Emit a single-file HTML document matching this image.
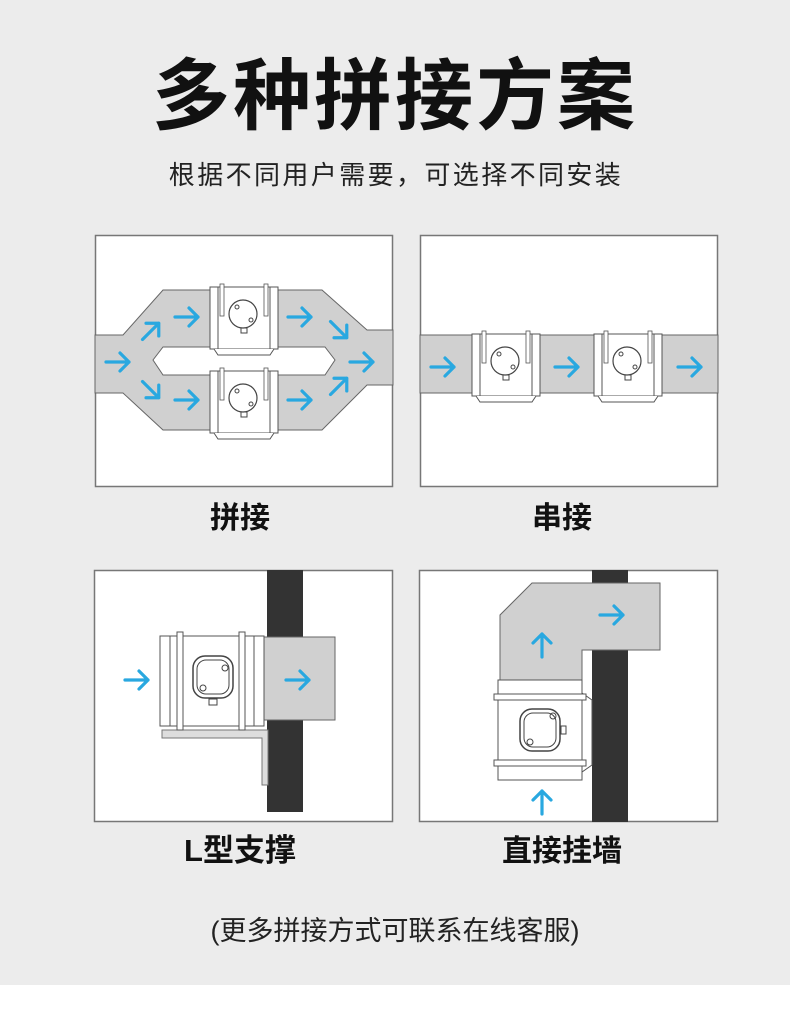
<!DOCTYPE html>
<html><head><meta charset="utf-8"><style>
html,body{margin:0;padding:0;background:#ececec;}
svg{display:block}
text{font-family:"Liberation Sans","Noto Sans CJK SC",sans-serif;}
</style></head><body>
<svg width="790" height="1028" viewBox="0 0 790 1028" xmlns="http://www.w3.org/2000/svg">
<defs>
<g id="ar"><path d="M-12,0 H11 M2,-9 L11,0 L2,9" fill="none" stroke="#29a8e0" stroke-width="3.2" stroke-linecap="round" stroke-linejoin="round"/></g>
<g id="fan">
<rect x="-34" y="-31" width="68" height="62" fill="#fff" stroke="#555" stroke-width="1"/>
<line x1="-26" y1="-31" x2="-26" y2="31" stroke="#555"/>
<line x1="26" y1="-31" x2="26" y2="31" stroke="#555"/>
<rect x="-24" y="-34" width="4" height="32" fill="#fff" stroke="#555" stroke-width="0.8"/>
<rect x="20" y="-34" width="4" height="32" fill="#fff" stroke="#555" stroke-width="0.8"/>
<circle cx="-1" cy="-4" r="14" fill="#fff" stroke="#444" stroke-width="1.2"/>
<circle cx="-7" cy="-11" r="2" fill="none" stroke="#444"/>
<circle cx="7" cy="2" r="2" fill="none" stroke="#444"/>
<rect x="-3" y="10" width="6" height="5" fill="none" stroke="#444"/>
<path d="M-30,31 L-26,37 H26 L30,31" fill="#fff" stroke="#555"/>
</g>
</defs>
<rect x="0" y="0" width="790" height="985" fill="#ececec"/>
<rect x="0" y="985" width="790" height="43" fill="#fff"/>

<text x="395" y="123" font-size="78" font-weight="bold" text-anchor="middle" letter-spacing="3" fill="#111">多种拼接方案</text>
<text x="396" y="184" font-size="26" text-anchor="middle" letter-spacing="2.4" fill="#222">根据不同用户需要，可选择不同安装</text>

<!-- box1 -->
<rect x="95.5" y="235.5" width="297" height="251" fill="#fff" stroke="#777" stroke-width="1.5"/>
<path d="M95,335 H123 L163,290 H322 L367,330 H393 V385 H367 L322,430 H163 L123,393 H95 Z" fill="#d0d0d0" stroke="#666"/>
<path d="M163,347 H325 L335,360 L325,375 H163 L153,360 Z" fill="#fff" stroke="#666"/>
<use href="#fan" x="244" y="318"/>
<use href="#fan" x="244" y="402"/>
<use href="#ar" x="118" y="362"/>
<use href="#ar" x="151" y="331" transform="rotate(-45 151 331)"/>
<use href="#ar" x="151" y="390" transform="rotate(45 151 390)"/>
<use href="#ar" x="187" y="317"/>
<use href="#ar" x="187" y="400"/>
<use href="#ar" x="300" y="317"/>
<use href="#ar" x="300" y="400"/>
<use href="#ar" x="339" y="330" transform="rotate(45 339 330)"/>
<use href="#ar" x="339" y="386" transform="rotate(-45 339 386)"/>
<use href="#ar" x="362" y="362"/>

<!-- box2 -->
<rect x="420.5" y="235.5" width="297" height="251" fill="#fff" stroke="#777" stroke-width="1.5"/>
<rect x="420" y="335" width="298" height="58" fill="#d0d0d0" stroke="#666"/>
<use href="#fan" x="506" y="365"/>
<use href="#fan" x="628" y="365"/>
<use href="#ar" x="443" y="367"/>
<use href="#ar" x="567" y="367"/>
<use href="#ar" x="690" y="367"/>

<!-- box3 -->
<rect x="94.5" y="570.5" width="298" height="251" fill="#fff" stroke="#777" stroke-width="1.5"/>
<rect x="267" y="570" width="36" height="242" fill="#333"/>
<rect x="262" y="637" width="73" height="83" fill="#d0d0d0" stroke="#666"/>
<path d="M162,730 H268 V785 H262 V738 H162 Z" fill="#ddd" stroke="#777"/>
<rect x="160" y="636" width="104" height="90" fill="#fff" stroke="#555"/>
<line x1="170" y1="636" x2="170" y2="726" stroke="#555"/>
<line x1="254" y1="636" x2="254" y2="726" stroke="#555"/>
<rect x="177" y="632" width="6" height="98" fill="#fff" stroke="#555"/>
<rect x="239" y="632" width="6" height="98" fill="#fff" stroke="#555"/>
<rect x="193" y="656" width="40" height="42" rx="12" fill="#fff" stroke="#444" stroke-width="1.5"/>
<rect x="197" y="660" width="32" height="34" rx="9" fill="none" stroke="#444"/>
<circle cx="225" cy="668" r="3" fill="none" stroke="#444"/>
<circle cx="203" cy="688" r="3" fill="none" stroke="#444"/>
<rect x="209" y="699" width="8" height="6" fill="none" stroke="#444"/>
<use href="#ar" x="137" y="680"/>
<use href="#ar" x="298" y="680"/>

<!-- box4 -->
<rect x="419.5" y="570.5" width="298" height="251" fill="#fff" stroke="#777" stroke-width="1.5"/>
<rect x="592" y="570" width="36" height="252" fill="#333"/>
<path d="M532,583 H660 V650 H582 V680 H500 V615 Z" fill="#d0d0d0" stroke="#666"/>
<path d="M582,693 L592,700 V765 L582,772 Z" fill="#fff" stroke="#555"/>
<rect x="498" y="680" width="84" height="100" fill="#fff" stroke="#555"/>
<rect x="494" y="694" width="92" height="6" fill="#fff" stroke="#555"/>
<rect x="494" y="760" width="92" height="6" fill="#fff" stroke="#555"/>
<rect x="520" y="709" width="40" height="42" rx="12" fill="#fff" stroke="#444" stroke-width="1.5"/>
<rect x="524" y="713" width="32" height="34" rx="9" fill="none" stroke="#444"/>
<circle cx="553" cy="716" r="3" fill="none" stroke="#444"/>
<circle cx="530" cy="742" r="3" fill="none" stroke="#444"/>
<rect x="561" y="726" width="5" height="8" fill="none" stroke="#444"/>
<use href="#ar" x="542" y="645" transform="rotate(-90 542 645)"/>
<use href="#ar" x="612" y="615"/>
<use href="#ar" x="542" y="802" transform="rotate(-90 542 802)"/>

<text x="240" y="528" font-size="30" font-weight="bold" text-anchor="middle" fill="#111">拼接</text>
<text x="562" y="528" font-size="30" font-weight="bold" text-anchor="middle" fill="#111">串接</text>
<text x="240" y="861" font-size="31" font-weight="bold" text-anchor="middle" fill="#111">L型支撑</text>
<text x="562" y="861" font-size="30" font-weight="bold" text-anchor="middle" fill="#111">直接挂墙</text>
<text x="395" y="940" font-size="27" text-anchor="middle" fill="#222">(更多拼接方式可联系在线客服)</text>
</svg>
</body></html>
